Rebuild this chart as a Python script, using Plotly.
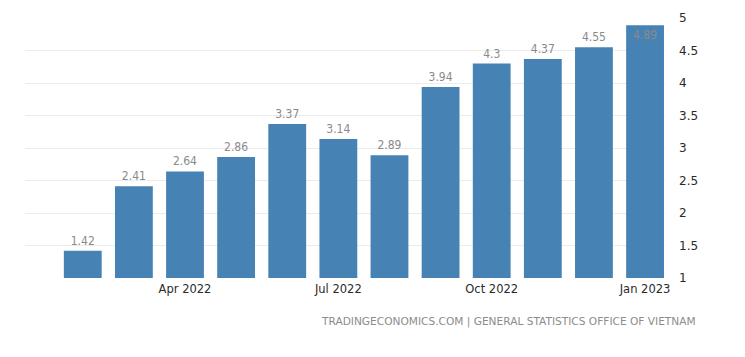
import plotly.graph_objects as go

months = ["Feb 2022", "Mar 2022", "Apr 2022", "May 2022", "Jun 2022", "Jul 2022",
          "Aug 2022", "Sep 2022", "Oct 2022", "Nov 2022", "Dec 2022", "Jan 2023"]
values = [1.42, 2.41, 2.64, 2.86, 3.37, 3.14, 2.89, 3.94, 4.3, 4.37, 4.55, 4.89]
labels = ["1.42", "2.41", "2.64", "2.86", "3.37", "3.14", "2.89", "3.94", "4.3", "4.37", "4.55", "4.89"]
x_ticks = ["Apr 2022", "Jul 2022", "Oct 2022", "Jan 2023"]
y_ticks = [1, 1.5, 2, 2.5, 3, 3.5, 4, 4.5, 5]

textpos = ["outside"] * (len(values) - 1) + ["inside"]

fig = go.Figure(go.Bar(
    x=months, y=values, text=labels, textposition=textpos,
    insidetextanchor="end",
    textfont=dict(color="#8a8a8a", size=12, family="DejaVu Sans Condensed, DejaVu Sans"),
    marker=dict(color="#4682b4", line=dict(width=0)),
    width=0.74, cliponaxis=True,
))

fig.update_layout(
    width=745, height=357,
    margin=dict(l=17, r=88, t=10, b=87, autoexpand=False),
    plot_bgcolor="white", paper_bgcolor="white",
    showlegend=False,
    font=dict(family="DejaVu Sans", color="#333333", size=12),
)
fig.update_xaxes(
    type="category", range=[-1.13, 11.39], automargin=False,
    tickmode="array", tickvals=x_ticks, ticktext=x_ticks,
    showgrid=False, showline=False, ticks="", zeroline=False,
    ticklabelstandoff=2,
    tickfont=dict(size=11.5, color="#2a2a2a"),
)
fig.update_yaxes(
    range=[1, 5], side="right", tickvals=y_ticks, automargin=False,
    ticktext=[str(v) for v in y_ticks],
    showgrid=True, gridcolor="#ececec", gridwidth=1, zeroline=False,
    showline=False, ticks="", ticklabelstandoff=13,
    tickfont=dict(size=12, color="#2a2a2a"),
)
fig.add_annotation(
    text="TRADINGECONOMICS.COM | GENERAL STATISTICS OFFICE OF VIETNAM",
    xref="paper", yref="paper", x=1.0516, y=-0.135, xanchor="right", yanchor="top",
    showarrow=False, font=dict(size=10.6, color="#8c8c8c", family="DejaVu Sans"),
)
fig.write_html("out.html")
